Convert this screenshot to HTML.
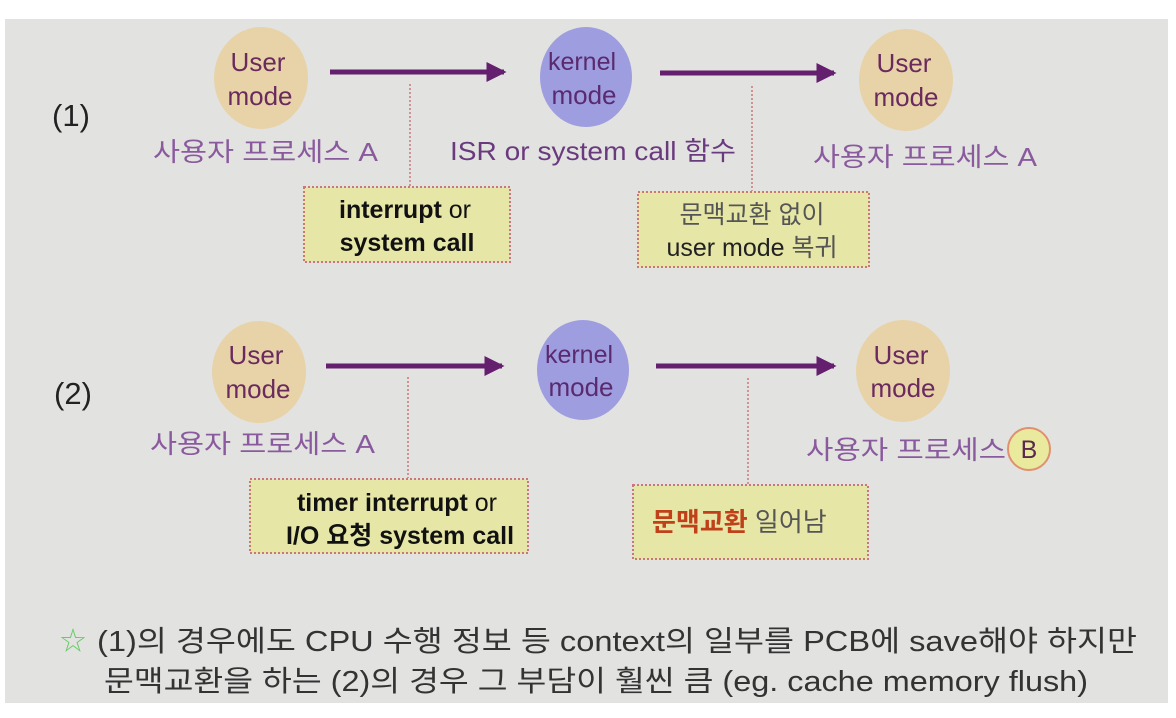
<!DOCTYPE html>
<html><head><meta charset="utf-8"><style>
html,body{margin:0;padding:0;background:#fff;}
svg{display:block;}
text{font-family:"Liberation Sans","Noto Sans CJK KR",sans-serif;}
</style></head><body>
<svg width="1176" height="718" viewBox="0 0 1176 718" xmlns="http://www.w3.org/2000/svg">
<defs><marker id="ah" markerWidth="4" markerHeight="4" refX="3.5" refY="2" orient="auto" markerUnits="strokeWidth"><path d="M0,0 L4,2 L0,4 z" fill="#64206e"/></marker></defs>
<rect x="5" y="19" width="1163" height="684" fill="#e2e2e0"/>
<!-- row 1 -->
<text x="71" y="126" font-size="31" fill="#222" text-anchor="middle">(1)</text>
<ellipse cx="261" cy="78" rx="47" ry="51" fill="#e8d3a8"/>
<text x="258" y="71" font-size="26" fill="#6a2a5e" text-anchor="middle">User</text>
<text x="260" y="105" font-size="26" fill="#6a2a5e" text-anchor="middle">mode</text>
<ellipse cx="586" cy="77" rx="46" ry="50" fill="#9e9de0"/>
<text x="582" y="70" font-size="25" fill="#5a2a6e" text-anchor="middle">kernel</text>
<text x="584" y="104" font-size="26" fill="#5a2a6e" text-anchor="middle">mode</text>
<ellipse cx="906" cy="80" rx="47" ry="51" fill="#e8d3a8"/>
<text x="904" y="72" font-size="26" fill="#6a2a5e" text-anchor="middle">User</text>
<text x="906" y="106" font-size="26" fill="#6a2a5e" text-anchor="middle">mode</text>
<line x1="330" y1="72" x2="504" y2="72" stroke="#64206e" stroke-width="5" marker-end="url(#ah)"/>
<line x1="660" y1="73" x2="834" y2="73" stroke="#64206e" stroke-width="5" marker-end="url(#ah)"/>
<text x="153" y="161" font-size="26" fill="#8a5a9e" textLength="225" lengthAdjust="spacingAndGlyphs">사용자 프로세스 A</text>
<text x="450" y="160" font-size="26" fill="#6a3a7e" textLength="286" lengthAdjust="spacingAndGlyphs">ISR or system call 함수</text>
<text x="813" y="166" font-size="26" fill="#8a5a9e" textLength="224" lengthAdjust="spacingAndGlyphs">사용자 프로세스 A</text>
<line x1="410" y1="84" x2="410" y2="186" stroke="#c77" stroke-width="1.5" stroke-dasharray="2,2"/>
<rect x="304" y="187" width="206" height="75" fill="#e6e6a6" stroke="#c77" stroke-width="2" stroke-dasharray="2,2"/>
<text x="405" y="218" font-size="25" fill="#111" text-anchor="middle"><tspan font-weight="bold">interrupt</tspan> or</text>
<text x="407" y="251" font-size="25" fill="#111" text-anchor="middle" font-weight="bold">system call</text>
<line x1="752" y1="86" x2="752" y2="191" stroke="#c77" stroke-width="1.5" stroke-dasharray="2,2"/>
<rect x="638" y="192" width="231" height="75" fill="#e6e6a6" stroke="#c77" stroke-width="2" stroke-dasharray="2,2"/>
<text x="752" y="223" font-size="25" fill="#555" text-anchor="middle">문맥교환 없이</text>
<text x="752" y="256" font-size="25" fill="#222" text-anchor="middle">user mode <tspan fill="#555">복귀</tspan></text>
<!-- row 2 -->
<text x="73" y="404" font-size="31" fill="#222" text-anchor="middle">(2)</text>
<ellipse cx="259" cy="372" rx="47" ry="51" fill="#e8d3a8"/>
<text x="256" y="364" font-size="26" fill="#6a2a5e" text-anchor="middle">User</text>
<text x="258" y="398" font-size="26" fill="#6a2a5e" text-anchor="middle">mode</text>
<ellipse cx="583" cy="370" rx="46" ry="50" fill="#9e9de0"/>
<text x="579" y="363" font-size="25" fill="#5a2a6e" text-anchor="middle">kernel</text>
<text x="581" y="396" font-size="26" fill="#5a2a6e" text-anchor="middle">mode</text>
<ellipse cx="903" cy="371" rx="47" ry="51" fill="#e8d3a8"/>
<text x="901" y="364" font-size="26" fill="#6a2a5e" text-anchor="middle">User</text>
<text x="903" y="397" font-size="26" fill="#6a2a5e" text-anchor="middle">mode</text>
<line x1="326" y1="366" x2="502" y2="366" stroke="#64206e" stroke-width="5" marker-end="url(#ah)"/>
<line x1="656" y1="366" x2="834" y2="366" stroke="#64206e" stroke-width="5" marker-end="url(#ah)"/>
<text x="150" y="453" font-size="26" fill="#8a5a9e" textLength="225" lengthAdjust="spacingAndGlyphs">사용자 프로세스 A</text>
<text x="806" y="459" font-size="26" fill="#8a5a9e" textLength="200" lengthAdjust="spacingAndGlyphs">사용자 프로세스</text>
<circle cx="1029" cy="449" r="21" fill="#eaea9e" stroke="#e09070" stroke-width="2"/>
<text x="1029" y="458" font-size="25" fill="#5a2a4e" text-anchor="middle">B</text>
<line x1="408" y1="377" x2="408" y2="478" stroke="#c77" stroke-width="1.5" stroke-dasharray="2,2"/>
<rect x="250" y="479" width="278" height="74" fill="#e6e6a6" stroke="#c77" stroke-width="2" stroke-dasharray="2,2"/>
<text x="397" y="511" font-size="25" fill="#111" text-anchor="middle"><tspan font-weight="bold">timer interrupt</tspan> or</text>
<text x="400" y="544" font-size="25" fill="#111" text-anchor="middle" font-weight="bold">I/O 요청 system call</text>
<line x1="748" y1="378" x2="748" y2="484" stroke="#c77" stroke-width="1.5" stroke-dasharray="2,2"/>
<rect x="633" y="485" width="235" height="74" fill="#e6e6a6" stroke="#c77" stroke-width="2" stroke-dasharray="2,2"/>
<text x="652" y="531" font-size="26" fill="#c0401a" font-weight="bold">문맥교환 <tspan fill="#555" font-weight="normal">일어남</tspan></text>
<!-- bottom -->
<text x="60" y="650" font-size="26" fill="#6c6">☆</text>
<text x="97" y="651" font-size="29" fill="#333" textLength="1040" lengthAdjust="spacingAndGlyphs">(1)의 경우에도 CPU 수행 정보 등 context의 일부를 PCB에 save해야 하지만</text>
<text x="104" y="691" font-size="29" fill="#333" textLength="984" lengthAdjust="spacingAndGlyphs">문맥교환을 하는 (2)의 경우 그 부담이 훨씬 큼 (eg. cache memory flush)</text>
</svg>
</body></html>
